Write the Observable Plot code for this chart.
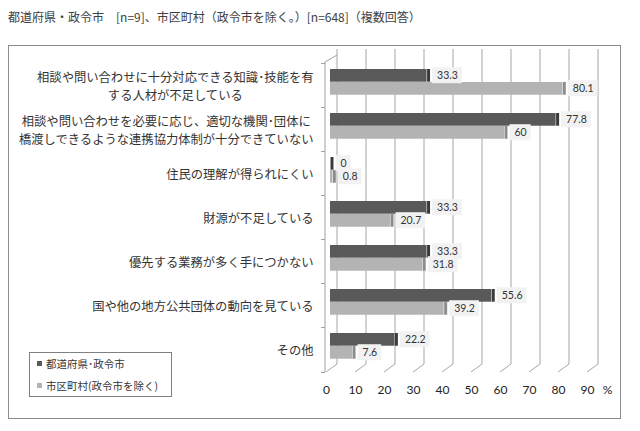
<!DOCTYPE html>
<html>
<head>
<meta charset="utf-8">
<script src="https://cdn.jsdelivr.net/npm/d3@7"></script>
<script src="https://cdn.jsdelivr.net/npm/@observablehq/plot@0.6"></script>
<style>
  body { margin: 0; background: #fff; }
  #wrap { position: relative; width: 640px; height: 431px; overflow: hidden; font-family: "Noto Sans CJK JP", sans-serif; }
  #title { position: absolute; left: 8px; top: 8px; font-size: 12px; color: #404040; white-space: nowrap; }
  #frame { position: absolute; left: 8px; top: 45px; width: 613px; height: 374px; border: 1px solid #8c8c8c; box-sizing: border-box; }
  #chart { position: absolute; left: 0; top: 0; }
  #legend { position: absolute; left: 29px; top: 352px; width: 143px; height: 45px; border: 1px solid #808080; box-sizing: border-box; background: #fff; font-size: 10.5px; color: #333; }
  .li { position: absolute; left: 7px; white-space: nowrap; line-height: 14px; }
  .sw { display: inline-block; width: 5px; height: 5px; margin-right: 4px; vertical-align: 2px; }
</style>
</head>
<body>
<div id="wrap">
  <div id="title"></div>
  <div id="frame"></div>
  <div id="chart"></div>
  <div id="legend"></div>
</div>
<script>
const titleText = "都道府県・政令市　[n=9]、市区町村（政令市を除く。）[n=648]（複数回答）";
const categories = [
  "相談や問い合わせに十分対応できる知識･技能を有\nする人材が不足している",
  "相談や問い合わせを必要に応じ、適切な機関･団体に\n橋渡しできるような連携協力体制が十分できていない",
  "住民の理解が得られにくい",
  "財源が不足している",
  "優先する業務が多く手につかない",
  "国や他の地方公共団体の動向を見ている",
  "その他"
];
const seriesNames = ["都道府県･政令市", "市区町村(政令市を除く)"];
const prefValues = [33.3, 77.8, 0, 33.3, 33.3, 55.6, 22.2];
const muniValues = [80.1, 60, 0.8, 20.7, 31.8, 39.2, 7.6];
const xTicks = [0, 10, 20, 30, 40, 50, 60, 70, 80, 90];
const unitLabel = "%";

const darkFill = "#595959", darkSide = "#3a3a3a";
const lightFill = "#b3b3b3", lightSide = "#8c8c8c";
const gridColor = "#a6a6a6";
const textColor = "#333";
const numFont = "Lato, 'Open Sans', sans-serif";

const rows = categories.map((c, i) => ({category: c, pref: prefValues[i], muni: muniValues[i]}));

const W = 640, H = 431, mL = 330, mR = 49, mT = 62, mB = 59;
const bw = (H - mT - mB) / categories.length;

// 3D walls / floor decoration drawn with the plot's scales
function decor(index, scales, values, dims) {
  const x = scales.x;
  const yF = dims.height - dims.marginBottom;
  const yT = dims.marginTop;
  const g = d3.create("svg:g").attr("fill", "none").attr("stroke", gridColor).attr("stroke-width", 1);
  const frontShift = -4, depthX = 11, depthY = 8, wallTop = 49;
  for (const t of xTicks) {
    const xf = x(t) + frontShift, xb = xf + depthX;
    g.append("path").attr("d", `M${xf},${yF}L${xb},${yF - depthY}V${wallTop}`);
  }
  const xa = x(0) - 5;
  g.append("path").attr("d", `M${xa},${yF}V${yT}L${x(0) + frontShift + depthX},${yT - 7}`).attr("stroke", "#a0a0a0");
  for (let i = 0; i <= categories.length; i++) {
    const yy = i < categories.length ? scales.y(categories[i]) : yF;
    g.append("path").attr("d", `M${xa - 4},${Math.round(yy) + 0.5}H${xa}`).attr("stroke", "#a0a0a0");
  }
  return g.node();
}

const chart = Plot.plot({
  width: W, height: H,
  marginLeft: mL, marginRight: mR, marginTop: mT, marginBottom: mB,
  x: {domain: [0, 90], axis: null},
  y: {domain: categories, axis: null, padding: 0},
  style: {background: "transparent", overflow: "visible"},
  marks: [
    decor,
    Plot.barX(rows, {x1: 0, x2: "pref", y: "category", fill: darkFill, insetTop: 6, insetBottom: bw - 19}),
    Plot.tickX(rows, {x: "pref", y: "category", stroke: darkSide, strokeWidth: 3, dx: 1.5, insetTop: 6, insetBottom: bw - 19}),
    Plot.barX(rows, {x1: 0, x2: "muni", y: "category", fill: lightFill, insetTop: 19, insetBottom: bw - 32}),
    Plot.tickX(rows, {x: "muni", y: "category", stroke: lightSide, strokeWidth: 3, dx: 1.5, insetTop: 19, insetBottom: bw - 32}),
    Plot.text(rows, {x: "pref", y: "category", text: d => String(d.pref), dx: 10, dy: 12.5 - bw/2, textAnchor: "start", fill: textColor, fontSize: 10.5, fontFamily: numFont}),
    Plot.text(rows, {x: "muni", y: "category", text: d => String(d.muni), dx: 10, dy: 25.5 - bw/2, textAnchor: "start", fill: textColor, fontSize: 10.5, fontFamily: numFont}),
    Plot.text(categories, {y: d => d, frameAnchor: "left", dx: -17, textAnchor: "end", lineHeight: 1.42, fontSize: 12.3, fill: textColor, fontFamily: "'Noto Sans CJK JP', sans-serif"}),
    Plot.text(xTicks, {x: d => d, text: d => String(d), frameAnchor: "bottom", dy: 21, dx: -4, fontSize: 12, fill: "#222", fontFamily: numFont}),
    Plot.text([{v: xTicks[xTicks.length - 1], t: unitLabel}], {x: "v", text: "t", frameAnchor: "bottom", dy: 21, dx: 16, fontSize: 12, fill: "#222", fontFamily: numFont})
  ]
});
document.getElementById("chart").appendChild(chart);
document.getElementById("title").textContent = titleText;

const textGroups = Array.from(chart.querySelectorAll("g")).filter(g => g.querySelector(":scope > text"));

// value label background boxes (first two text marks)
textGroups.slice(0, 2).forEach(grp => {
  grp.querySelectorAll(":scope > text").forEach(t => {
    const b = t.getBBox();
    const r = document.createElementNS("http://www.w3.org/2000/svg", "rect");
    const cy = b.y + b.height / 2;
    r.setAttribute("x", b.x - 5);
    r.setAttribute("y", cy - 8);
    r.setAttribute("width", b.width + 9);
    r.setAttribute("height", 16);
    r.setAttribute("fill", "#f2f2f2");
    r.setAttribute("stroke", "none");
    if (t.getAttribute("transform")) r.setAttribute("transform", t.getAttribute("transform"));
    grp.insertBefore(r, t);
  });
});

// center multi-line category labels within their block (third text mark)
if (textGroups[2]) {
  textGroups[2].querySelectorAll(":scope > text").forEach(t => {
    const spans = t.querySelectorAll("tspan");
    if (spans.length > 1) {
      const w = Math.max(...Array.from(spans, s => s.getComputedTextLength()));
      t.setAttribute("text-anchor", "middle");
      spans.forEach(s => s.setAttribute("x", -w / 2));
    }
  });
}

// legend
const legend = document.getElementById("legend");
[[seriesNames[0], darkFill, 4], [seriesNames[1], lightFill, 26]].forEach(([name, color, top]) => {
  const d = document.createElement("div");
  d.className = "li";
  d.style.top = top + "px";
  const s = document.createElement("span");
  s.className = "sw";
  s.style.background = color;
  d.appendChild(s);
  d.appendChild(document.createTextNode(name));
  legend.appendChild(d);
});
</script>
</body>
</html>
